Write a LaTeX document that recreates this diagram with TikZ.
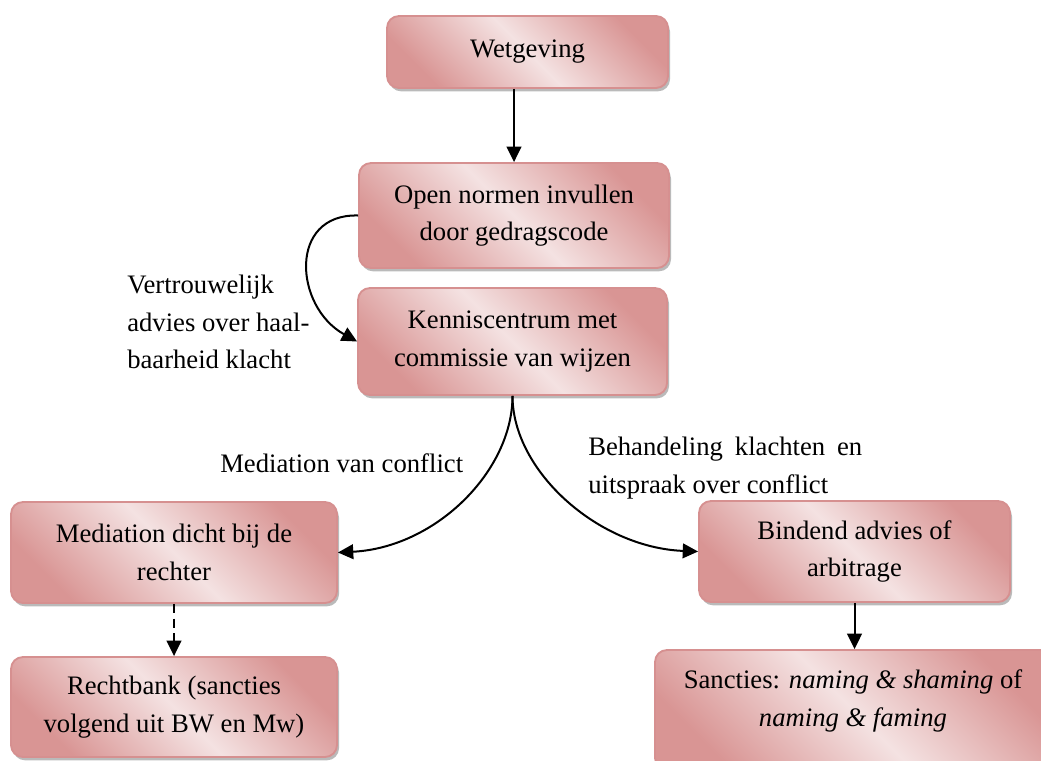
\documentclass[tikz,border=0pt]{standalone}
\usepackage{fontspec}
\setmainfont{Liberation Serif}
\usetikzlibrary{arrows.meta,shadows}
\definecolor{rdark}{HTML}{D99594}
\definecolor{rlight}{HTML}{F4E2E2}
\definecolor{rborder}{HTML}{D69090}
\begin{document}
\begin{tikzpicture}[x=0.75pt,y=-0.75pt,
  txt/.style={font=\fontsize{20}{28}\selectfont, inner sep=0pt},
  box/.style={rounded corners=9pt, draw=rborder, line width=1.4pt,
    top color=rdark, bottom color=rdark, middle color=rlight, shading angle=-45,
    drop shadow={shadow xshift=1.5pt, shadow yshift=-2.5pt, fill=black!45, opacity=0.6},
    align=center, txt},
  bx/.style 2 args={minimum width=#1*0.75pt, minimum height=#2*0.75pt},
  conn/.style={line width=1.5pt, -{Triangle[length=11.5pt,width=11pt]}}
]
\useasboundingbox (0,0) rectangle (1041,760);

\node[box, bx={281}{72}] (wet) at (527.5,52) {Wetgeving};
\node[box, bx={310}{105}] (open) at (514,215.5) {Open normen invullen\\door gedragscode};
\node[box, bx={309}{107}] (ken) at (512.5,341.5) {Kenniscentrum met\\commissie van wijzen};
\node[box, bx={326}{101}] (med) at (174,552.5) {Mediation dicht bij de\\rechter};
\node[box, bx={311}{101}] (bin) at (854.5,551.5) {Bindend advies of\\arbitrage};
\node[box, bx={326}{100}] (rb) at (174,707) {Rechtbank (sancties\\volgend uit BW en Mw)};
\node[box, bx={397}{120}] (san) at (853.5,710) {};
\node[txt, align=center] (sanT) at (853,701) {Sancties: \textit{naming \& shaming} of\\\textit{naming \& faming}};

\node[txt, align=left, anchor=west] (vert) at (127,322) {Vertrouwelijk\\advies over haal-\\baarheid klacht};
\node[txt, anchor=base west] (medlab) at (220,472) {Mediation van conflict};
\node[txt, align=left, anchor=west] (behlab) at (588,468) {\hbox to 274\dimexpr0.75pt\relax{Behandeling\hfil klachten\hfil en}\\uitspraak over conflict};

\draw[conn] (open.north |- wet.south) -- (open.north);
\draw[conn] (open.west) .. controls +(-70,-2) and +(-63,-35) .. (ken.west);
\draw[conn] (ken.south) .. controls +(0,75) and +(98,-5) .. (med.east);
\draw[conn] (ken.south) .. controls +(0,75) and +(-100,-4) .. (bin.west);
\draw[conn, dash pattern=on 7pt off 4pt] (med.south) -- (rb.north);
\draw[conn] (bin.south) -- (bin.south |- san.north);
\end{tikzpicture}
\end{document}
